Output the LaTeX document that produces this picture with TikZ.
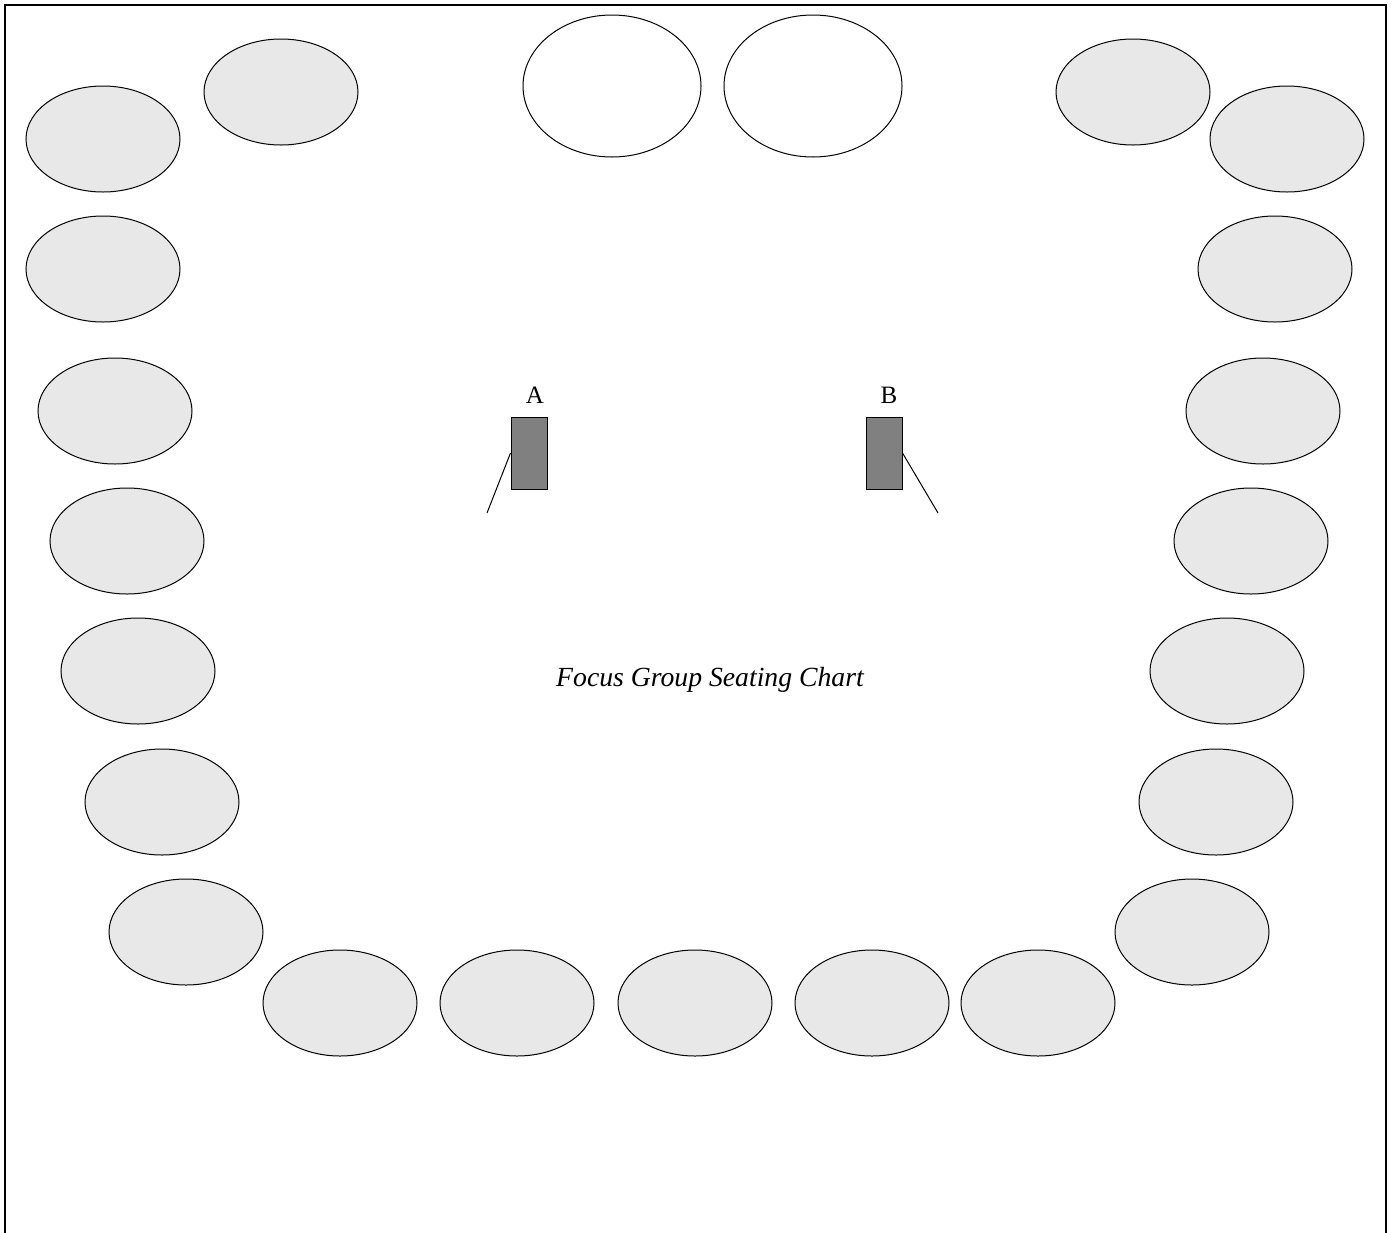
\documentclass[tikz,border=0pt]{standalone}
\usepackage{fontspec}
\setmainfont{Liberation Serif}
\usetikzlibrary{shapes.geometric}
\definecolor{seatgray}{HTML}{E8E8E8}
\definecolor{boxgray}{HTML}{808080}
\begin{document}
\begin{tikzpicture}[x=1pt,y=-1pt,
  seat/.style={ellipse,draw=black,line width=1pt,fill=seatgray,minimum width=154pt,minimum height=106pt,inner sep=0pt},
  topseat/.style={ellipse,draw=black,line width=1pt,fill=white,minimum width=178pt,minimum height=142pt,inner sep=0pt},
  mic/.style={rectangle,draw=black,line width=1pt,fill=boxgray,minimum width=36pt,minimum height=72pt,inner sep=0pt},
  lbl/.style={font=\fontsize{25}{29}\selectfont,inner sep=0pt},
  wire/.style={line width=1pt}]
\useasboundingbox (0,0) rectangle (1395,1232);
\begin{scope}
\clip (0,0) rectangle (1395,1232);
\draw[line width=2.2pt] (5,1260) -- (5,5) -- (1386,5) -- (1386,1260);
\end{scope}
% top white seats
\node[topseat] (t1) at (612,86) {};
\node[topseat] (t2) at (813,86) {};
% left side
\node[seat] (s1) at (103,139) {};
\node[seat] (s2) at (281,92) {};
\node[seat] (s3) at (103,269) {};
\node[seat] (s4) at (115,411) {};
\node[seat] (s5) at (127,541) {};
\node[seat] (s6) at (138,671) {};
\node[seat] (s7) at (162,802) {};
\node[seat] (s8) at (186,932) {};
% bottom
\node[seat] (s9) at (340,1003) {};
\node[seat] (s10) at (517,1003) {};
\node[seat] (s11) at (695,1003) {};
\node[seat] (s12) at (872,1003) {};
\node[seat] (s13) at (1038,1003) {};
% right side
\node[seat] (s14) at (1192,932) {};
\node[seat] (s15) at (1216,802) {};
\node[seat] (s16) at (1227,671) {};
\node[seat] (s17) at (1251,541) {};
\node[seat] (s18) at (1263,411) {};
\node[seat] (s19) at (1275,269) {};
\node[seat] (s20) at (1287,139) {};
\node[seat] (s21) at (1133,92) {};
% microphones / cameras
\node[mic] (ra) at (529,453) {};
\node[mic] (rb) at (884,453) {};
\node[lbl] (la) at (535,395) {A};
\node[lbl] (lb) at (889,395) {B};
\coordinate (ea) at (487,513);
\coordinate (eb) at (938,513);
\draw[wire] (ra.west) -- (ea);
\draw[wire] (rb.east) -- (eb);
% title
\node[font=\fontsize{27.7}{32}\selectfont\itshape,inner sep=0pt] (title) at (710,680) {Focus Group Seating Chart};
\end{tikzpicture}
\end{document}
